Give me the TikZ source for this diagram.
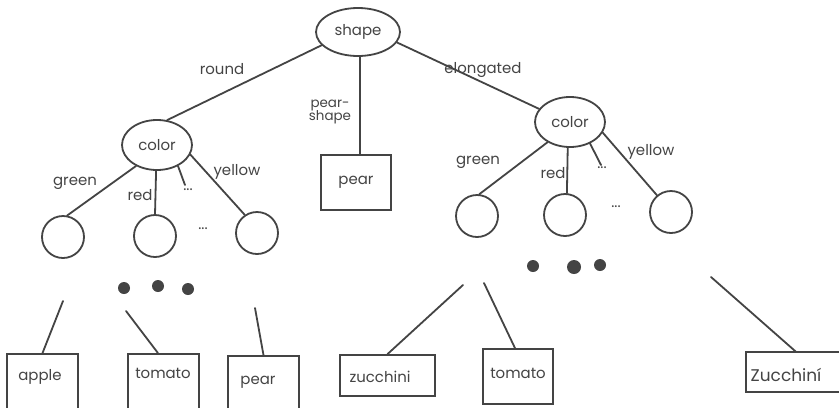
\documentclass[tikz,border=0pt]{standalone}
\usepackage{fontspec}
\setmainfont{Poppins}
\usetikzlibrary{shapes.geometric}
\definecolor{ink}{HTML}{444444}
\definecolor{txt}{HTML}{444444}
\begin{document}
\begin{tikzpicture}[x=1bp,y=-1bp,
  link/.style={draw=ink,line width=1.8bp,line cap=round},
  oval/.style={ellipse,draw=ink,line width=1.8bp,inner sep=0pt,text=txt,
    font=\fontsize{15}{17}\selectfont},
  leaf/.style={circle,draw=ink,line width=1.8bp,minimum size=42bp,inner sep=0pt},
  tag/.style={text=txt,inner sep=0pt,font=\fontsize{15}{17}\selectfont},
  box/.style={rectangle,draw=ink,line width=1.8bp,inner sep=0pt},
  blob/.style={circle,fill=ink,minimum size=12bp,inner sep=0pt}]
\fill[white] (0,0) rectangle (839,407);
\useasboundingbox (0,0) rectangle (839,407);

% root and first split
\node[oval,minimum width=84bp,minimum height=48bp] (shape) at (358,32) {shape};
\node[oval,minimum width=70bp,minimum height=50bp] (lc) at (157,145) {color};
\node[oval,minimum width=70bp,minimum height=50bp] (rc) at (570,122) {color};
\node[box,minimum width=70bp,minimum height=55bp,text=txt,
  font=\fontsize{15}{17}\selectfont] (pearA) at (356,182.5) {pear};

\draw[link] (shape.200) -- (lc.68);
\draw[link] (shape.-85) -- (shape.-85 |- pearA.north);
\draw[link] (shape.-15) -- (rc.157);

\node[tag] (round) at (222,69) {round};
\node[tag,align=center,font=\fontsize{13.5}{14}\selectfont] (pshape) at (330,112) {pear-\\shape};
\node[tag] (elong) at (483,70) {elongated};

% left colour split
\node[leaf] (c1) at (63,237) {};
\node[leaf] (c2) at (155,236) {};
\node[leaf] (c3) at (257,233) {};
\coordinate (ldash) at (185,185);
\draw[link] (lc.225) -- (c1.79);
\draw[link] (lc.268) -- (c2.90);
\draw[link] (lc.-45) -- (ldash);
\draw[link] (lc.-16) -- (c3.124);
\node[tag] (lgreen) at (75,183) {green};
\node[tag] (lred) at (140,195) {red};
\node[tag] (ldots) at (188,190) {...};
\node[tag] (lyellow) at (237,172) {yellow};
\node[tag] (lmid) at (203,229) {...};

% right colour split
\node[leaf] (c4) at (477,216) {};
\node[leaf] (c5) at (565,215) {};
\node[leaf] (c6) at (671,212) {};
\coordinate (rdash) at (601,165);
\draw[link] (rc.222) -- (c4.84);
\draw[link] (rc.265) -- (c5.85);
\draw[link] (rc.-47) -- (rdash);
\draw[link] (rc.-18) -- (c6.130);
\node[tag] (rgreen) at (478,162) {green};
\node[tag] (rred) at (553,173) {red};
\node[tag] (rdots) at (602,168) {...};
\node[tag] (ryellow) at (651,152) {yellow};
\node[tag] (rmid) at (616,207) {...};

% ellipsis blobs
\node[blob] (b1) at (124,288) {};
\node[blob] (b2) at (158,286) {};
\node[blob] (b3) at (188,289) {};
\node[blob] (b4) at (533,266) {};
\node[blob,minimum width=14bp] (b5) at (574,267) {};
\node[blob] (b6) at (600,265) {};

% leaves
\node[box,minimum width=71bp,minimum height=70bp] (apple) at (42.5,389) {};
\node[box,minimum width=71bp,minimum height=70bp] (tom) at (163.5,389) {};
\node[box,minimum width=71bp,minimum height=70bp] (pearB) at (263.5,391) {};
\node[box,minimum width=95bp,minimum height=41bp] (zuc) at (387.5,375.5) {};
\node[box,minimum width=70bp,minimum height=55bp] (tom2) at (518,376.5) {};
% the last box runs off the right edge: only three sides are drawn
\node[rectangle,inner sep=0pt,minimum width=100bp,minimum height=40bp] (zuc2) at (796,372) {};
\draw[link,line cap=butt] (zuc2.north east) -- (zuc2.north west) -- (zuc2.south west) -- (zuc2.south east);

\node[tag] (tapple) at (40,377) {apple};
\node[tag] (ttom) at (163,373) {tomato};
\node[tag] (tpear) at (258,382) {pear};
\node[tag] (tzuc) at (380,377) {zucchini};
\node[tag] (ttom2) at (518,373) {tomato};
\node[tag,font=\fontsize{17}{19}\selectfont] (tzuc2) at (786,375) {Zucchiní};

\coordinate (u1) at (63,301);
\coordinate (u2) at (126,311);
\coordinate (u3) at (255,308);
\coordinate (u4) at (463,285);
\coordinate (u5) at (484,283);
\coordinate (u6) at (711,277);
\draw[link] (u1) -- (apple.north);
\draw[link] (u2) -- ([xshift=-5.5bp]tom.north);
\draw[link] (u3) -- (pearB.north);
\draw[link] (u4) -- (zuc.north);
\draw[link] (u5) -- ([xshift=-3bp]tom2.north);
\draw[link] (u6) -- (zuc2.north);
\end{tikzpicture}
\end{document}
